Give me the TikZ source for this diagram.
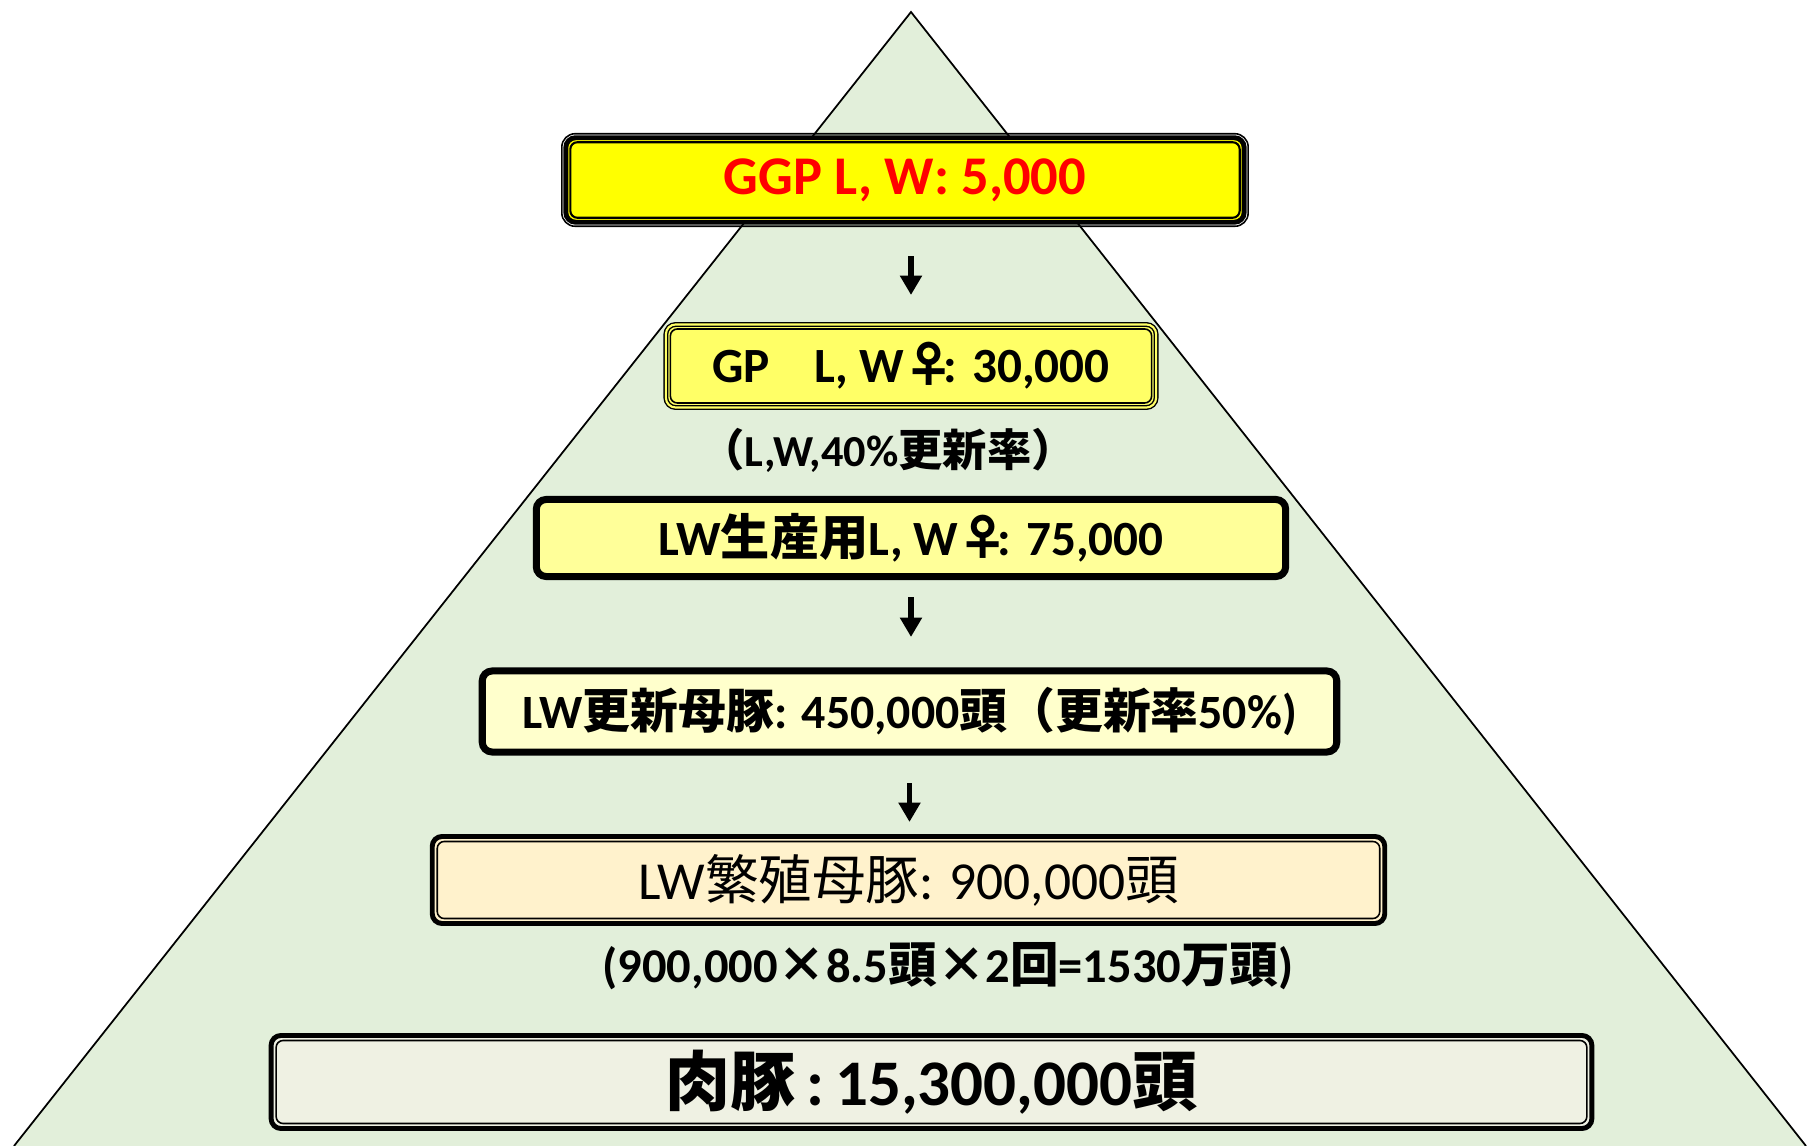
\documentclass[tikz,border=0pt]{standalone}
\usepackage{fontspec}
\setmainfont{Carlito}
\newfontfamily\cjk{Noto Sans CJK JP}
\usetikzlibrary{arrows.meta}
\newcommand\jtxt[1]{{\cjk #1}}
\definecolor{trifill}{RGB}{226,239,218}
\definecolor{ggpfill}{RGB}{255,255,0}
\definecolor{gpfill}{RGB}{255,255,102}
\definecolor{lwpfill}{RGB}{255,255,153}
\definecolor{lwrfill}{RGB}{255,255,204}
\definecolor{lwbfill}{RGB}{255,242,204}
\definecolor{meatfill}{RGB}{239,241,227}
\tikzset{
  box/.style={rectangle, rounded corners=2.8pt, outer sep=0pt, inner sep=0pt, align=center},
  thickbox/.style={box, draw=black, line width=2pt},
  thinframe/.style={draw=black, line width=0.45pt, rounded corners=2pt},
  arr/.style={line width=1.6pt, -{Triangle[width=6pt,length=5.5pt]}},
  lbl/.style={inner sep=0pt, outer sep=0pt, font=\bfseries}
}
\begin{document}
\begin{tikzpicture}[x=0.01cm,y=-0.01cm]
\path[use as bounding box] (0,0) rectangle (1808,1146);
% pyramid
\fill[trifill] (911,12) -- (14,1146) -- (1806,1146) -- cycle;
\draw[line width=0.5pt] (14,1146) -- (911,12) -- (1806,1146);

% GGP
\node[box, draw=black, line width=1.4pt, fill=ggpfill, minimum width=6.78cm, minimum height=0.845cm,
      font=\fontsize{15.5}{18}\selectfont\bfseries, text=red] (ggp) at (905,180) {GGP L, W: 5,000};
\draw[thinframe, rounded corners=3.8pt] ([shift={(-4,-4)}]ggp.north west) rectangle ([shift={(4,4)}]ggp.south east);
\draw[thinframe, line width=0.6pt] ([shift={(4.5,4.5)}]ggp.north west) rectangle ([shift={(-4.5,-4.5)}]ggp.south east);

% GP
\node[box, draw=black, line width=0.4pt, double=gpfill, double distance=0.6pt, fill=gpfill,
      minimum width=4.9cm, minimum height=0.83cm,
      font=\fontsize{14}{17}\selectfont\bfseries] (gp) at (911,366) {GP\hspace{0.9em}L, W\jtxt{♀}\hspace{-0.2em}: 30,000};
\draw[thinframe] ([shift={(4.5,4.5)}]gp.north west) rectangle ([shift={(-4.5,-4.5)}]gp.south east);

\node[lbl, font=\fontsize{12.6}{15}\selectfont\bfseries] (note1) at (888,450) {\jtxt{（}L,W,40\%\jtxt{更新率）}};

% LW production
\node[thickbox, fill=lwpfill, minimum width=7.49cm, minimum height=0.77cm,
      font=\fontsize{14}{17}\selectfont\bfseries] (lwp) at (911,538) {LW\jtxt{生産用}L, W\jtxt{♀}\hspace{-0.2em}: 75,000};

% LW renewal sows
\node[thickbox, fill=lwrfill, minimum width=8.54cm, minimum height=0.81cm,
      font=\fontsize{13.6}{17}\selectfont\bfseries] (lwr) at (909.5,711.5) {LW\jtxt{更新母豚}: 450,000\jtxt{頭（更新率}50\%)};

% LW breeding sows
\node[box, draw=black, line width=1.4pt, fill=lwbfill, minimum width=9.52cm, minimum height=0.87cm,
      font=\fontsize{15.2}{18}\selectfont] (lwb) at (908.5,880) {LW\jtxt{繁殖母豚}: 900,000\jtxt{頭}};
\draw[thinframe] ([shift={(5,5)}]lwb.north west) rectangle ([shift={(-5,-5)}]lwb.south east);

\node[lbl, font=\fontsize{13.8}{17}\selectfont\bfseries] (note2) at (948,966) {(900,000\jtxt{×}8.5\jtxt{頭×}2\jtxt{回}=1530\jtxt{万頭})};

% meat pigs
\node[box, draw=black, line width=1.4pt, fill=meatfill, minimum width=13.2cm, minimum height=0.93cm,
      font=\fontsize{18.5}{22}\selectfont\bfseries] (meat) at (931.5,1082) {\jtxt{肉豚}\,:\,15,300,000\jtxt{頭}};
\draw[thinframe] ([shift={(5,5)}]meat.north west) rectangle ([shift={(-5,-5)}]meat.south east);

% arrows
\draw[arr, shorten <=0.34cm, shorten >=0.295cm] (gp.north |- ggp.south) -- (gp.north);
\draw[arr, shorten <=0.205cm, shorten >=0.34cm] (lwp.south) -- (lwp.south |- lwr.north);
\draw[arr, shorten <=0.31cm, shorten >=0.145cm] (lwr.south) -- (lwr.south |- lwb.north);
\end{tikzpicture}
\end{document}
